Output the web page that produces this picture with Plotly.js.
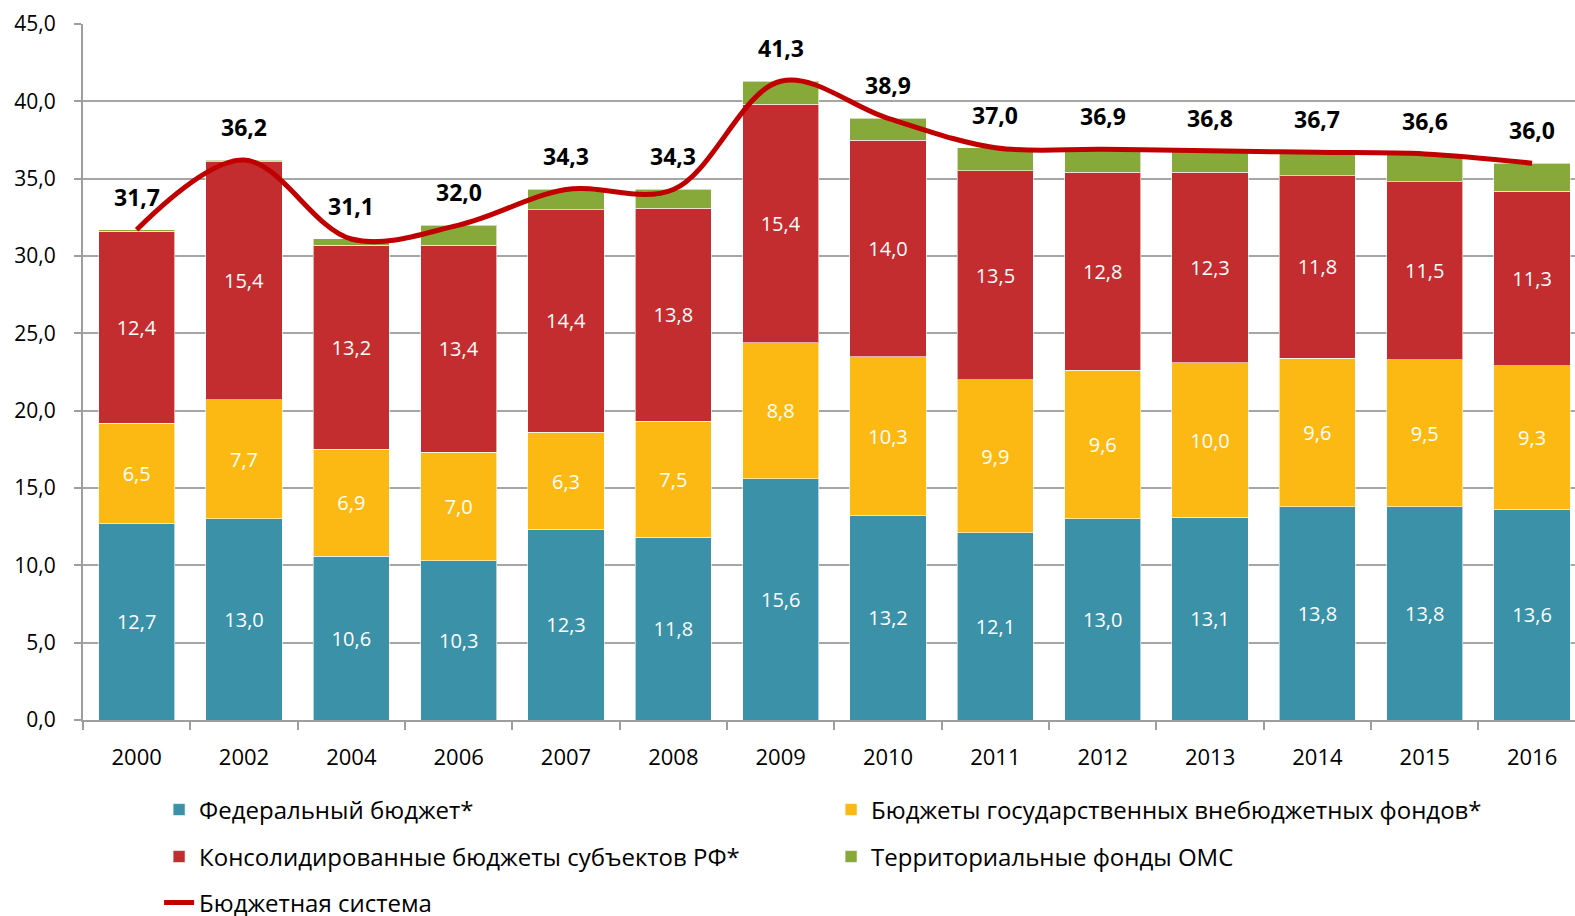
<!DOCTYPE html>
<html>
<head>
<meta charset="utf-8">
<script src="https://cdn.plot.ly/plotly-3.0.1.min.js"></script>
<style>
html,body{margin:0;padding:0;background:#fff;overflow:hidden;}
#chart{width:1575px;height:940px;}
</style>
</head>
<body>
<div id="chart"></div>
<script>
const years = ['2000','2002','2004','2006','2007','2008','2009','2010','2011','2012','2013','2014','2015','2016'];
const federal = [12.7,13.0,10.6,10.3,12.3,11.8,15.6,13.2,12.1,13.0,13.1,13.8,13.8,13.6];
const funds = [6.5,7.7,6.9,7.0,6.3,7.5,8.8,10.3,9.9,9.6,10.0,9.6,9.5,9.3];
const regions = [12.4,15.4,13.2,13.4,14.4,13.8,15.4,14.0,13.5,12.8,12.3,11.8,11.5,11.3];
const oms = [0.1,0.1,0.4,1.3,1.3,1.2,1.5,1.4,1.5,1.5,1.4,1.5,1.8,1.8];
const total = [31.7,36.2,31.1,32.0,34.3,34.3,41.3,38.9,37.0,36.9,36.8,36.7,36.6,36.0];

const names = {
  federal:'Федеральный бюджет*',
  funds:'Бюджеты государственных внебюджетных фондов*',
  regions:'Консолидированные бюджеты субъектов РФ*',
  oms:'Территориальные фонды ОМС',
  total:'Бюджетная система'
};

const FONT = 'Open Sans, Noto Sans, sans-serif';
const fmt = v => v.toFixed(1).replace('.', ',');

function barTrace(vals, name, color, legend, withText){
  return {
    type:'bar', x:years, y:vals, name:name, legend:legend,
    marker:{color:color, line:{color:'rgba(255,255,255,0.6)', width:1}},
    text: withText ? vals.map(fmt) : undefined,
    textposition: withText ? 'inside' : 'none',
    insidetextanchor:'middle',
    textangle:0,
    textfont:{color:'#ffffff', size:20, family:FONT},
    hoverinfo:'y+name'
  };
}

const data = [
  barTrace(federal, names.federal, '#3A91A8', 'legend', true),
  barTrace(funds, names.funds, '#FDB913', 'legend', true),
  barTrace(regions, names.regions, '#C42D2F', 'legend2', true),
  barTrace(oms, names.oms, '#86A93A', 'legend2', false),
  {
    type:'scatter', mode:'lines', x:years, y:total, name:names.total, legend:'legend3',
    line:{color:'#C00000', width:5, shape:'spline', smoothing:1}
  }
];

// category axis: annotation x given as category index
const annotations = years.map((yr,i)=>({
  x:i, y:total[i], xref:'x', yref:'y', text:'<b>'+fmt(total[i])+'</b>',
  showarrow:false, yshift:33, font:{size:23, color:'#000', family:FONT}
}));

const legendBase = {
  orientation:'h', xanchor:'left', yanchor:'middle', traceorder:'normal',
  font:{size:24, color:'#000', family:FONT},
  entrywidth:627, entrywidthmode:'pixels', bgcolor:'rgba(0,0,0,0)'
};

const layout = {
  width:1575, height:940,
  margin:{l:83, r:0, t:24, b:220},
  paper_bgcolor:'#fff', plot_bgcolor:'#fff',
  barmode:'stack', bargap:0.29,
  separators:', ',
  font:{family:FONT, color:'#000'},
  xaxis:{
    type:'category', range:[-0.5, 13.4],
    showline:true, linecolor:'#9E9E9E', linewidth:2,
    ticks:'outside', tickson:'boundaries', ticklen:8, tickcolor:'#9E9E9E', tickwidth:2,
    tickfont:{size:22, family:FONT, color:'#000'}, ticklabelstandoff:17,
    showgrid:false, zeroline:false
  },
  yaxis:{
    range:[0,45], dtick:5, tick0:0, tickformat:'.1f',
    showline:true, linecolor:'#9E9E9E', linewidth:2,
    ticks:'outside', ticklen:7, tickcolor:'#9E9E9E', tickwidth:2,
    showgrid:true, gridcolor:'#A6A6A6', gridwidth:2,
    zeroline:false,
    tickfont:{size:21, family:FONT, color:'#000'}, ticklabelstandoff:14
  },
  showlegend:true,
  legend: Object.assign({}, legendBase, {x:0.051, y:-0.1293}),
  legend2: Object.assign({}, legendBase, {x:0.051, y:-0.1968}),
  legend3: Object.assign({}, legendBase, {x:0.051, y:-0.2629}),
  annotations: annotations
};

Plotly.newPlot('chart', data, layout, {displayModeBar:false, staticPlot:true});
</script>
</body>
</html>
